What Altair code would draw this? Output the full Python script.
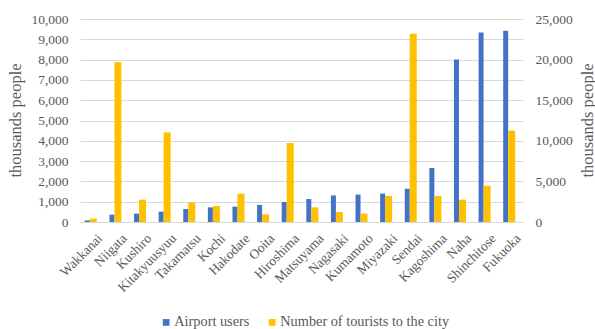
import altair as alt
import pandas as pd

cities = ["Wakkanai", "Niigata", "Kushiro", "Kitakyuusyuu", "Takamatsu", "Kochi",
          "Hakodate", "Ooita", "Hiroshima", "Matsuyama", "Nagasaki", "Kumamoto",
          "Miyazaki", "Sendai", "Kagoshima", "Naha", "Shinchitose", "Fukuoka"]
airport_users = [80, 360, 410, 510, 640, 720, 755, 840, 985, 1130, 1310, 1350,
                 1400, 1640, 2660, 8010, 9330, 9425]
tourists = [410, 19660, 2750, 11040, 2380, 1970, 3490, 945, 9730, 1800, 1230, 1030,
            3200, 23190, 3200, 2750, 4470, 11250]
series_names = ["Airport users", "Number of tourists to the city"]
series_colors = ["#4472C4", "#FFC000"]
left_ticks = list(range(0, 10001, 1000))
right_ticks = list(range(0, 25001, 5000))

df = pd.DataFrame({
    "city": cities * 2,
    "series": [series_names[0]] * len(cities) + [series_names[1]] * len(cities),
    "value": airport_users + tourists,
})

FONT = "'Liberation Serif', 'Times New Roman', serif"
GRAY = "#595959"

x_enc = alt.X("city:N", sort=cities, title=None,
              scale=alt.Scale(paddingInner=0, paddingOuter=0),
              axis=alt.Axis(labelAngle=-45, labelAlign="right", labelBaseline="top",
                            labelPadding=9, labelOffset=3, ticks=False,
                            domainColor="#d9d9d9", labelFont=FONT, labelFontSize=13.5))
color_enc = alt.Color("series:N",
                      scale=alt.Scale(domain=series_names, range=series_colors),
                      legend=alt.Legend(title=None, orient="none", direction="horizontal",
                                        legendX=79, legendY=296, symbolType="square",
                                        symbolSize=45, symbolStrokeWidth=0,
                                        labelFont=FONT, labelFontSize=14.3, labelLimit=400,
                                        labelOffset=1, columnPadding=15))

blue = alt.Chart(df).transform_filter(
    alt.datum.series == series_names[0]
).mark_bar(width=5, xOffset=-5).encode(
    x=x_enc,
    y=alt.Y("value:Q", scale=alt.Scale(domain=[0, 10000], nice=False),
            axis=alt.Axis(values=left_ticks, format=",.0f", title="thousands people",
                          orient="left", ticks=False, domain=False, grid=True,
                          gridColor="#d9d9d9", labelPadding=12, labelFontSize=13.5,
                          labelFont=FONT,
                          titleAngle=-90, titleX=-65, titleY=101,
                          titleAlign="center", titleBaseline="middle")),
    color=color_enc,
)

yellow = alt.Chart(df).transform_filter(
    alt.datum.series == series_names[1]
).mark_bar(width=7, xOffset=1).encode(
    x=x_enc,
    y=alt.Y("value:Q", scale=alt.Scale(domain=[0, 25000], nice=False),
            axis=alt.Axis(values=right_ticks, format=",.0f", title="thousands people",
                          orient="right", ticks=False, domain=False, grid=False,
                          labelPadding=12, labelFontSize=13.5, labelFont=FONT,
                          titleAngle=-90, titleX=64, titleY=101,
                          titleAlign="center", titleBaseline="middle")),
    color=color_enc,
)

chart = alt.layer(blue, yellow).resolve_scale(y="independent").properties(
    width=443, height=203,
    autosize=alt.AutoSizeParams(type="none"),
    padding={"left": 80, "top": 19, "right": 72, "bottom": 107},
).configure(
    background="white", font=FONT
).configure_view(
    stroke=None
).configure_axis(
    labelFont=FONT, labelColor=GRAY, titleFont=FONT, titleFontSize=16.5,
    titleFontWeight="normal", titleColor=GRAY
).configure_legend(
    labelFont=FONT, labelColor=GRAY
)

chart.save("out.html", embed_options={"renderer": "svg", "actions": False})
